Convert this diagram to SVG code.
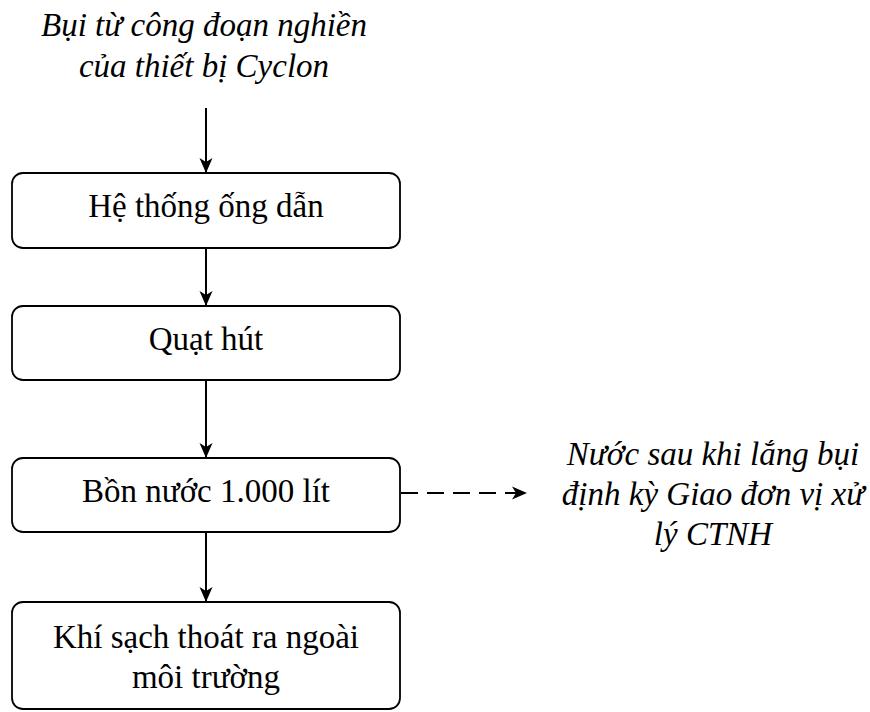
<svg xmlns="http://www.w3.org/2000/svg" width="870" height="712" viewBox="0 0 870 712">
  <style>
    .box { fill: #ffffff; stroke: #000000; stroke-width: 1.8; }
    .lbl { font-family: "Liberation Serif", "Times New Roman", serif; font-size: 33px; fill: #000000; text-anchor: middle; }
    .note { font-family: "Liberation Serif", "Times New Roman", serif; font-size: 33px; font-style: italic; fill: #000000; text-anchor: middle; }
    .edge { stroke: #000000; stroke-width: 2; fill: none; }
    .dash { stroke-dasharray: 17 9; }
  </style>
  <defs>
    <marker id="arrow" markerUnits="userSpaceOnUse" markerWidth="16" markerHeight="16" viewBox="0 0 16 16" refX="15" refY="8" orient="auto">
      <path d="M0,1.5 L15,8 L0,14.5 L4,8 Z" fill="#000000"/>
    </marker>
  </defs>

  <rect width="870" height="712" fill="#ffffff"/>

  <!-- source label -->
  <g id="source">
    <text class="note" x="204" y="36">Bụi từ công đoạn nghiền</text>
    <text class="note" x="204" y="77">của thiết bị Cyclon</text>
  </g>

  <g id="ong-dan">
    <rect class="box" x="12" y="173" width="388" height="75" rx="11"/>
    <text class="lbl" x="206" y="217">Hệ thống ống dẫn</text>
  </g>

  <g id="quat-hut">
    <rect class="box" x="12" y="306" width="388" height="74" rx="11"/>
    <text class="lbl" x="206" y="350">Quạt hút</text>
  </g>

  <g id="bon-nuoc">
    <rect class="box" x="12" y="458" width="388" height="74" rx="11"/>
    <text class="lbl" x="206" y="502">Bồn nước 1.000 lít</text>
  </g>

  <g id="khi-sach">
    <rect class="box" x="12" y="602" width="388" height="107" rx="11"/>
    <text class="lbl" x="206" y="648">Khí sạch thoát ra ngoài</text>
    <text class="lbl" x="206" y="688">môi trường</text>
  </g>

  <!-- output label for settled water -->
  <g id="nuoc-thai">
    <text class="note" x="713" y="465">Nước sau khi lắng bụi</text>
    <text class="note" x="713" y="505">định kỳ Giao đơn vị xử</text>
    <text class="note" x="713" y="545">lý CTNH</text>
  </g>

  <g id="connectors">
    <line class="edge" x1="206" y1="108" x2="206" y2="173" marker-end="url(#arrow)"/>
    <line class="edge" x1="206" y1="248" x2="206" y2="306" marker-end="url(#arrow)"/>
    <line class="edge" x1="206" y1="380" x2="206" y2="458" marker-end="url(#arrow)"/>
    <line class="edge" x1="206" y1="532" x2="206" y2="602" marker-end="url(#arrow)"/>
    <line class="edge dash" x1="401" y1="493" x2="527" y2="493" marker-end="url(#arrow)"/>
  </g>
</svg>
